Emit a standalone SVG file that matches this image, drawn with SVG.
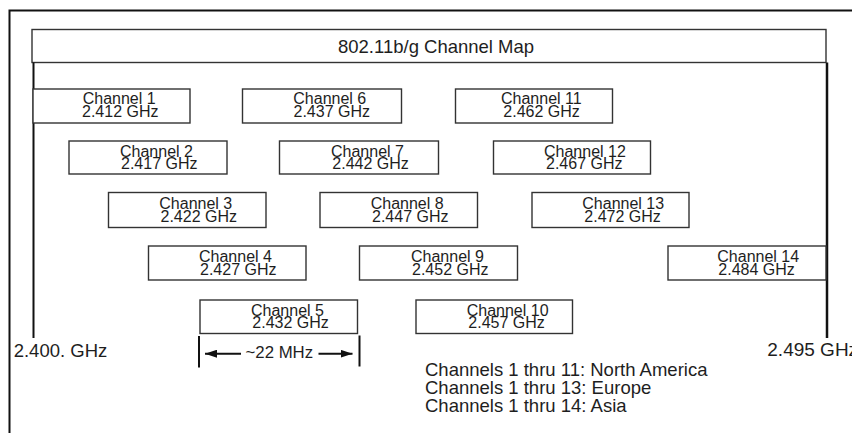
<svg xmlns="http://www.w3.org/2000/svg" width="852" height="433" viewBox="0 0 852 433">
  <style>
    text { font-family: "Liberation Sans", Arial, sans-serif; fill: #1e1e1e; }
    .box { fill: #fff; stroke: #333; stroke-width: 1.4; }
    .ch { font-size: 16px; }
    .frame { fill: none; stroke: #111; stroke-width: 2; }
    .big { font-size: 18.5px; }
  </style>
  <defs>
    <marker id="ah" viewBox="0 0 12 8" refX="12" refY="4" markerWidth="12" markerHeight="8" markerUnits="userSpaceOnUse" orient="auto-start-reverse">
      <path d="M0,0 L12,4 L0,8 Z" fill="#111"/>
    </marker>
  </defs>
  <rect width="852" height="433" fill="#fff"/>
  <path class="frame" d="M9.5,433 V10.5 H852"/>

  <g id="title">
    <rect x="32" y="29.5" width="794" height="33" fill="#fff" stroke="#333" stroke-width="1.4"/>
    <text class="big" x="338" y="53.3">802.11b/g Channel Map</text>
  </g>

  <g id="band-edges">
    <line x1="33.5" y1="62.5" x2="33.5" y2="338" stroke="#111" stroke-width="2"/>
    <line x1="827" y1="62.5" x2="827" y2="338" stroke="#111" stroke-width="2.5"/>
    <text class="big" x="13.7" y="356.7" font-size="19">2.400. GHz</text>
    <text class="big" x="767.3" y="356" style="font-size:19px">2.495 GHz</text>
  </g>

  <g id="ch1"><rect class="box" x="33" y="89" width="157" height="34"/><text class="ch" x="82.7" y="104">Channel 1</text><text class="ch" x="82" y="117">2.412 GHz</text></g>
  <g id="ch6"><rect class="box" x="242.5" y="89" width="159" height="34"/><text class="ch" x="293.3" y="104">Channel 6</text><text class="ch" x="293.5" y="117">2.437 GHz</text></g>
  <g id="ch11"><rect class="box" x="455.5" y="89" width="157" height="34"/><text class="ch" x="501" y="104">Channel 11</text><text class="ch" x="503.3" y="117">2.462 GHz</text></g>

  <g id="ch2"><rect class="box" x="69" y="141" width="158" height="33"/><text class="ch" x="120" y="156.5">Channel 2</text><text class="ch" x="121" y="169">2.417 GHz</text></g>
  <g id="ch7"><rect class="box" x="279.5" y="141" width="159" height="33"/><text class="ch" x="331" y="156.5">Channel 7</text><text class="ch" x="332.3" y="169">2.442 GHz</text></g>
  <g id="ch12"><rect class="box" x="493.5" y="141" width="157" height="33"/><text class="ch" x="544" y="156.5">Channel 12</text><text class="ch" x="546" y="169">2.467 GHz</text></g>

  <g id="ch3"><rect class="box" x="108.5" y="192.5" width="157.5" height="35"/><text class="ch" x="159.3" y="208.5">Channel 3</text><text class="ch" x="160.5" y="221.5">2.422 GHz</text></g>
  <g id="ch8"><rect class="box" x="320" y="192.5" width="157.5" height="35"/><text class="ch" x="370.7" y="208.5">Channel 8</text><text class="ch" x="372" y="221.5">2.447 GHz</text></g>
  <g id="ch13"><rect class="box" x="532" y="192.5" width="157" height="35"/><text class="ch" x="582.3" y="208.5">Channel 13</text><text class="ch" x="584.3" y="221.5">2.472 GHz</text></g>

  <g id="ch4"><rect class="box" x="148.5" y="246" width="157.5" height="34"/><text class="ch" x="199" y="261.5">Channel 4</text><text class="ch" x="200" y="274.5">2.427 GHz</text></g>
  <g id="ch9"><rect class="box" x="359.5" y="246" width="158" height="34"/><text class="ch" x="411" y="261.5">Channel 9</text><text class="ch" x="412" y="274.5">2.452 GHz</text></g>
  <g id="ch14"><rect class="box" x="668" y="246" width="158" height="34"/><text class="ch" x="717.3" y="261.5">Channel 14</text><text class="ch" x="718.3" y="274.5">2.484 GHz</text></g>

  <g id="ch5"><rect class="box" x="200" y="300" width="157.5" height="33.5"/><text class="ch" x="251" y="315.5">Channel 5</text><text class="ch" x="252.3" y="328.3">2.432 GHz</text></g>
  <g id="ch10"><rect class="box" x="416" y="300" width="156.5" height="33.5"/><text class="ch" x="466.7" y="315.5">Channel 10</text><text class="ch" x="468.3" y="328.3">2.457 GHz</text></g>

  <g id="connectors">
    <line x1="199" y1="336" x2="199" y2="367.5" stroke="#111" stroke-width="2"/>
    <line x1="359.5" y1="335.5" x2="359.5" y2="366.5" stroke="#111" stroke-width="2"/>
    <line x1="241" y1="353.7" x2="205" y2="353.7" stroke="#111" stroke-width="2" marker-end="url(#ah)"/>
    <line x1="318.5" y1="353.7" x2="352.5" y2="353.7" stroke="#111" stroke-width="2" marker-end="url(#ah)"/>
    <text x="245.5" y="358.3" style="font-size:16.8px">~22 MHz</text>
  </g>

  <g id="legend">
    <text class="big" x="425" y="375.7">Channels 1 thru 11: North America</text>
    <text class="big" x="425" y="394">Channels 1 thru 13: Europe</text>
    <text class="big" x="425" y="412.3">Channels 1 thru 14: Asia</text>
  </g>
</svg>
